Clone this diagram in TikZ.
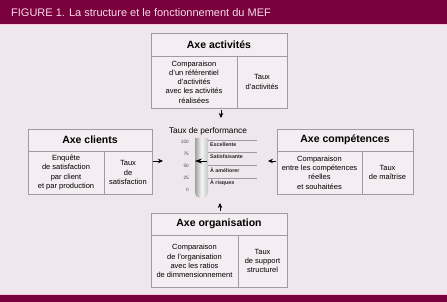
\documentclass[tikz,border=0pt]{standalone}
\usepackage{fontspec}
\setmainfont{Liberation Sans}
\usetikzlibrary{positioning,arrows.meta,calc}
\definecolor{bandcolor}{RGB}{122,0,62}
\definecolor{pagecolor}{RGB}{240,231,236}
\definecolor{boxcolor}{RGB}{244,237,241}
\definecolor{linecolor}{RGB}{160,155,158}
\definecolor{titlecolor}{RGB}{248,220,236}
\definecolor{edgecolor}{RGB}{250,196,224}

\begin{document}
\begin{tikzpicture}[
    x=1pt, y=-1pt,
    axehead/.style={rectangle, draw=linecolor, line width=0.6pt, fill=boxcolor, minimum height=22pt, inner sep=0pt, outer sep=0pt, font=\fontsize{10.5}{12}\selectfont\bfseries},
    axecell/.style={rectangle, draw=linecolor, line width=0.6pt, fill=boxcolor, inner sep=0pt, outer sep=0pt, align=center, font=\fontsize{7.5}{9.3}\selectfont},
    arrow/.style={-{Stealth[length=5pt,width=4.5pt]}, line width=0.6pt},
    pointer/.style={-{Stealth[length=7pt,width=5pt]}, line width=0.8pt},
    scalelbl/.style={anchor=east, inner sep=0pt, font=\fontsize{4.7}{5}\selectfont, text=black!70},
    levellbl/.style={anchor=west, inner sep=0pt, font=\fontsize{5.3}{6}\selectfont\bfseries, text=black!85},
    levelline/.style={draw=linecolor, line width=0.4pt}
]
\useasboundingbox (0,0) rectangle (447,302);

% Frame
\fill[pagecolor] (0,0) rectangle (447,302);
\fill[bandcolor] (0,0) rectangle (447,24);
\draw[edgecolor, line width=0.8pt] (0,24.4) -- (447,24.4);
\fill[bandcolor] (0,295) rectangle (447,302);
\draw[edgecolor, line width=1pt] (0,294.5) -- (447,294.5);
\node[anchor=west, inner sep=0pt, text=titlecolor, font=\fontsize{11}{12}\selectfont] (title) at (11,12.5) {FIGURE 1. La structure et le fonctionnement du MEF};

% Axes
\node[axehead, minimum width=136pt, minimum height=23pt, anchor=north west] (act) at (151,33) {Axe activités};
\node[axecell, minimum width=86pt, minimum height=52pt, below right=0pt and 0pt of act.south west] (actcmp) {Comparaison\\d'un référentiel\\d'activités\\avec les activités\\réalisées};
\node[axecell, minimum width=50pt, minimum height=52pt, right=0pt of actcmp] (acttx) {Taux\\d'activités};

\node[axehead, minimum width=124pt, anchor=north west] (cli) at (28,129) {Axe clients};
\node[axecell, minimum width=76pt, minimum height=43pt, below right=0pt and 0pt of cli.south west] (clicmp) {Enquête\\de satisfaction\\par client\\et par production};
\node[axecell, minimum width=48pt, minimum height=43pt, right=0pt of clicmp] (clitx) {Taux\\de\\satisfaction};

\node[axehead, minimum width=136pt, anchor=north west] (comp) at (277,129) {Axe compétences};
\node[axecell, minimum width=85pt, minimum height=43pt, below right=0pt and 0pt of comp.south west] (compcmp) {Comparaison\\entre les compétences\\réelles\\et souhaitées};
\node[axecell, minimum width=51pt, minimum height=43pt, right=0pt of compcmp] (comptx) {Taux\\de maîtrise};

\node[axehead, minimum width=136pt, anchor=north west] (org) at (151,213) {Axe organisation};
\node[axecell, minimum width=87pt, minimum height=52pt, below right=0pt and 0pt of org.south west] (orgcmp) {Comparaison\\de l'organisation\\avec les ratios\\de dimmensionnement};
\node[axecell, minimum width=49pt, minimum height=52pt, right=0pt of orgcmp] (orgtx) {Taux\\de support\\structurel};

% Gauge
\node[inner sep=0pt, font=\fontsize{8.3}{9}\selectfont] (perf) at (208,131) {Taux de performance};
\shade[left color=gray!75, right color=gray!45, middle color=gray!8] (195,138) {[rounded corners=5pt] -- (195,198) -- (208,198)} -- (208,138) -- cycle;
\foreach \v/\yy in {100/142,75/154,50/166,25/178,0/190}
    \node[scalelbl] (sc\v) at (189,\yy) {\v};
\foreach \lbl/\yy [count=\i] in {Excellente/145,Satisfaisante/157,À améliorer/170,À risques/183} {
    \draw[levelline] (208,\yy-5) -- (257,\yy-5);
    \node[levellbl] (lvl\i) at (210,\yy) {\lbl};
}
\coordinate (ptrtail) at (207,161);
\coordinate (ptrtip) at (195,161);
\draw[pointer] (ptrtail) -- (ptrtip);

% Arrows
\coordinate (nfrom) at (221,110);
\coordinate (nto) at (221,118);
\coordinate (sfrom) at (220,211);
\coordinate (sto) at (220,203);
\coordinate (wfrom) at (153,161);
\coordinate (wto) at (163,161);
\coordinate (efrom) at (276,161);
\coordinate (eto) at (268,161);
\draw[arrow] (nfrom) -- (nto);
\draw[arrow] (sfrom) -- (sto);
\draw[arrow] (wfrom) -- (wto);
\draw[arrow] (efrom) -- (eto);

\end{tikzpicture}
\end{document}
